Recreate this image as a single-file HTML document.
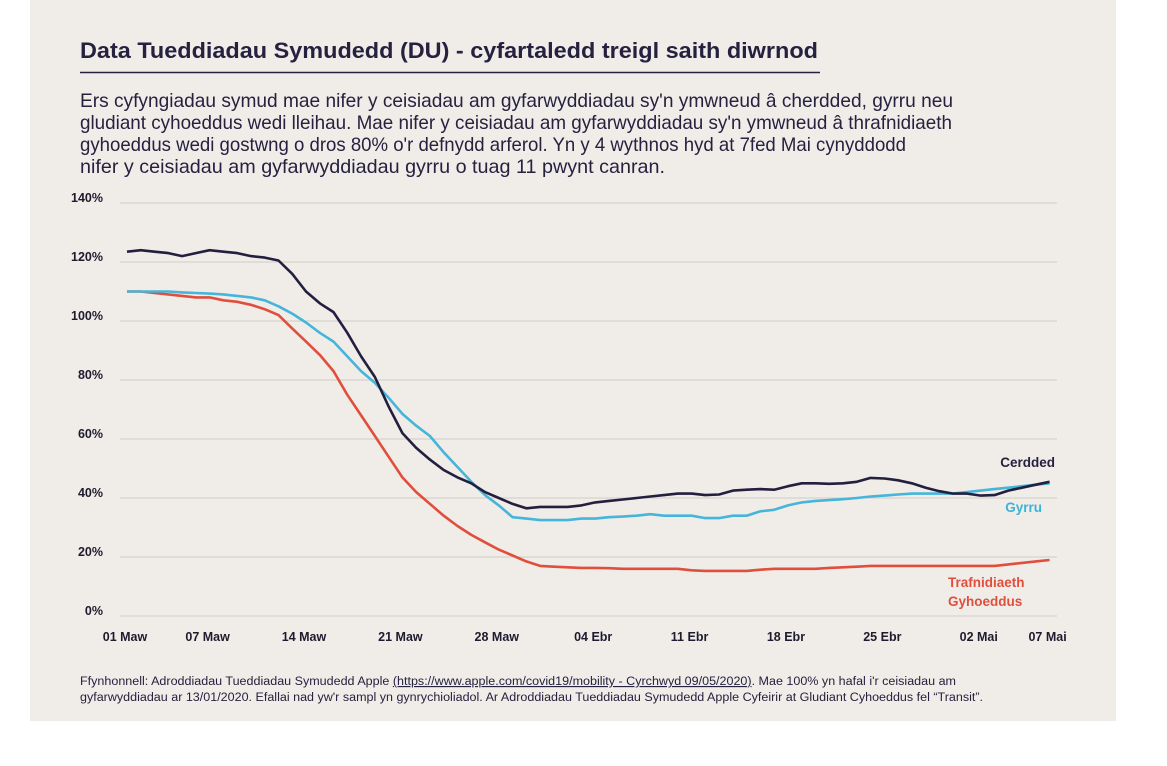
<!DOCTYPE html>
<html><head><meta charset="utf-8"><style>
html,body{margin:0;padding:0;background:#fff;}
svg{display:block;font-family:"Liberation Sans",Arial,sans-serif;}
</style></head><body>
<svg id="chart" width="1167" height="766" viewBox="0 0 1167 766">
<rect x="30" y="0" width="1086" height="721" fill="#f0ede9"/>
<text x="80" y="58" font-size="22" font-weight="bold" fill="#25213f" textLength="738" lengthAdjust="spacingAndGlyphs">Data Tueddiadau Symudedd (DU) - cyfartaledd treigl saith diwrnod</text>
<line x1="80" y1="72.5" x2="820" y2="72.5" stroke="#25213f" stroke-width="1.5"/>
<g font-size="19.5" fill="#25213f">
<text x="80" y="107" textLength="873" lengthAdjust="spacingAndGlyphs">Ers cyfyngiadau symud mae nifer y ceisiadau am gyfarwyddiadau sy'n ymwneud â cherdded, gyrru neu</text>
<text x="80" y="129" textLength="872" lengthAdjust="spacingAndGlyphs">gludiant cyhoeddus wedi lleihau. Mae nifer y ceisiadau am gyfarwyddiadau sy'n ymwneud â thrafnidiaeth</text>
<text x="80" y="151" textLength="826" lengthAdjust="spacingAndGlyphs">gyhoeddus wedi gostwng o dros 80% o'r defnydd arferol. Yn y 4 wythnos hyd at 7fed Mai cynyddodd</text>
<text x="80" y="173" textLength="585" lengthAdjust="spacingAndGlyphs">nifer y ceisiadau am gyfarwyddiadau gyrru o tuag 11 pwynt canran.</text>
</g>
<g id="grid"></g><g id="ylabels"></g><g id="xlabels"></g><g id="series"></g>
<text x="1055" y="467" font-size="13.5" font-weight="bold" fill="#25213f" text-anchor="end">Cerdded</text>
<text x="1042" y="512" font-size="13.5" font-weight="bold" fill="#3ab3d8" text-anchor="end">Gyrru</text>
<text x="948" y="587" font-size="13.5" font-weight="bold" fill="#e04e3c"><tspan x="948">Trafnidiaeth</tspan><tspan x="948" dy="19">Gyhoeddus</tspan></text>
<g font-size="11.5" fill="#25213f">
<text x="80" y="685" textLength="876" lengthAdjust="spacingAndGlyphs">Ffynhonnell: Adroddiadau Tueddiadau Symudedd Apple <tspan text-decoration="underline">(https://www.apple.com/covid19/mobility - Cyrchwyd 09/05/2020)</tspan>. Mae 100% yn hafal i'r ceisiadau am</text>
<text x="80" y="701" textLength="903" lengthAdjust="spacingAndGlyphs">gyfarwyddiadau ar 13/01/2020. Efallai nad yw'r sampl yn gynrychioliadol. Ar Adroddiadau Tueddiadau Symudedd Apple Cyfeirir at Gludiant Cyhoeddus fel “Transit”.</text>
</g>
</svg>
<script>
const yTicks=[0,20,40,60,80,100,120,140];
const xTickDays=[0,6,13,20,27,34,41,48,55,62,67];
const xTickLabels=["01 Maw","07 Maw","14 Maw","21 Maw","28 Maw","04 Ebr","11 Ebr","18 Ebr","25 Ebr","02 Mai","07 Mai"];
const cerdded=[123.5,124,123.5,123,122,123,124,123.5,123,122,121.5,120.5,116,110,106,103,96,88,81,71,62,57,53,49.5,47,45,42,40,38,36.5,37,37,37,37.5,38.5,39,39.5,40,40.5,41,41.5,41.5,41,41.2,42.5,42.8,43,42.8,44,45,45,44.8,45,45.5,46.8,46.6,46,45,43.5,42.3,41.5,41.5,40.8,41,42.5,43.5,44.5,45.5];
const gyrru=[110,110,110,110,109.7,109.5,109.3,109,108.5,108,107,105,102.5,99.5,96,93,88,83,79,74,68.5,64.5,61,55.5,50.5,45.5,41,37.5,33.5,33,32.5,32.5,32.5,33,33,33.5,33.7,34,34.5,34,34,34,33.2,33.2,34,34,35.5,36,37.5,38.5,39,39.3,39.6,40,40.5,40.8,41.2,41.5,41.5,41.5,41.5,42,42.5,43,43.5,44,44.5,45];
const trafnidiaeth=[110,110,109.5,109,108.5,108,108,107,106.5,105.5,104,102,97.5,93,88.5,83,75,68,61,54,47,42,38,34,30.5,27.5,25,22.5,20.5,18.5,17,16.7,16.5,16.3,16.3,16.2,16,16,16,16,16,15.5,15.3,15.3,15.3,15.3,15.7,16,16,16,16,16.3,16.5,16.7,17,17,17,17,17,17,17,17,17,17,17.5,18,18.5,19];
const NS="http://www.w3.org/2000/svg";
function xs(d){return 127+d*13.77;}
function ys(v){return 616-v*(413/140);}
const grid=document.getElementById('grid'),yl=document.getElementById('ylabels'),xl=document.getElementById('xlabels'),se=document.getElementById('series');
yTicks.forEach(t=>{
 const l=document.createElementNS(NS,'line');
 l.setAttribute('x1',120);l.setAttribute('x2',1057);l.setAttribute('y1',ys(t));l.setAttribute('y2',ys(t));
 l.setAttribute('stroke','#cfcbc6');l.setAttribute('stroke-width','1');
 
 
 grid.appendChild(l);
 const tx=document.createElementNS(NS,'text');
 tx.setAttribute('x',103);tx.setAttribute('y',ys(t)-1);tx.setAttribute('text-anchor','end');
 tx.setAttribute('font-size','12.5');tx.setAttribute('font-weight','bold');tx.setAttribute('fill','#1e1b2e');
 tx.textContent=t+'%';
 
 
 yl.appendChild(tx);
});
xTickDays.forEach((d,i)=>{
 const tx=document.createElementNS(NS,'text');
 tx.setAttribute('x',xs(d)-2);tx.setAttribute('y',641);tx.setAttribute('text-anchor','middle');
 tx.setAttribute('font-size','12.5');tx.setAttribute('font-weight','bold');tx.setAttribute('fill','#1e1b2e');
 tx.textContent=xTickLabels[i];
 
 
 xl.appendChild(tx);
});
[[trafnidiaeth,'#e04e3c','line-trafnidiaeth'],[gyrru,'#45b5da','line-gyrru'],[cerdded,'#231f3e','line-cerdded']].forEach(s=>{
 const p=document.createElementNS(NS,'polyline');
 p.setAttribute('points',s[0].map((v,i)=>xs(i).toFixed(1)+','+ys(v).toFixed(1)).join(' '));
 p.setAttribute('fill','none');p.setAttribute('stroke',s[1]);p.setAttribute('stroke-width','2.6');p.setAttribute('stroke-linejoin','round');
 
 
 se.appendChild(p);
});
</script>
</body></html>
